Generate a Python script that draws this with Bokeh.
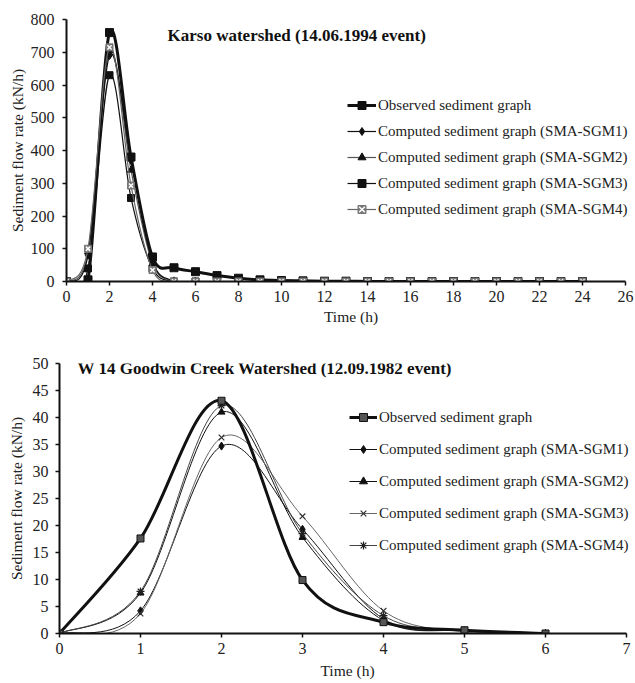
from bokeh.plotting import figure
from bokeh.models import Legend, LegendItem, Label, Range1d, FixedTicker
from bokeh.embed import file_html
from bokeh.resources import INLINE

FONT = "Liberation Serif"

# ---------------- Karso watershed data ----------------
karso_t = list(range(0, 25))
karso_obs = [0, 5, 760, 380, 75, 42, 30, 18, 10, 5, 3, 2, 1, 1, 0, 0, 0, 0, 0, 0, 0, 0, 0, 0, 0]
karso_sgm1 = [0, 80, 690, 370, 62, 2, 0, 0, 0, 0, 0, 0, 0, 0, 0, 0, 0, 0, 0, 0, 0, 0, 0, 0, 0]
karso_sgm2 = [0, 90, 705, 340, 55, 1, 0, 0, 0, 0, 0, 0, 0, 0, 0, 0, 0, 0, 0, 0, 0, 0, 0, 0, 0]
karso_sgm3 = [0, 40, 630, 255, 40, 0, 0, 0, 0, 0, 0, 0, 0, 0, 0, 0, 0, 0, 0, 0, 0, 0, 0, 0, 0]
karso_sgm4 = [0, 100, 715, 293, 35, 0, 0, 0, 0, 0, 0, 0, 0, 0, 0, 0, 0, 0, 0, 0, 0, 0, 0, 0, 0]
karso_xmax = 26
karso_xticks = list(range(0, 27, 2))
karso_yticks = list(range(0, 801, 100))

# ---------------- Goodwin Creek data ----------------
gw_t = [0, 1, 2, 3, 4, 5, 6]
gw_obs = [0, 17.6, 43.1, 9.9, 2.1, 0.6, 0]
gw_sgm1 = [0, 4.2, 34.7, 19.3, 2.7, 0.5, 0]
gw_sgm2 = [0, 7.5, 41.0, 17.8, 2.4, 0.5, 0]
gw_sgm3 = [0, 3.7, 36.3, 21.7, 4.2, 0.3, 0]
gw_sgm4 = [0, 7.8, 42.2, 18.5, 3.3, 0.5, 0]
gw_xmax = 7
gw_xticks = list(range(0, 8))
gw_yticks = list(range(0, 51, 5))

labels = ["Observed sediment graph",
          "Computed sediment graph (SMA-SGM1)",
          "Computed sediment graph (SMA-SGM2)",
          "Computed sediment graph (SMA-SGM3)",
          "Computed sediment graph (SMA-SGM4)"]


def smooth(xs, ys):
    """Cubic Bezier segments (Catmull-Rom style) through the data points."""
    n = len(xs)
    out = {k: [] for k in ["x0", "y0", "x1", "y1", "cx0", "cy0", "cx1", "cy1"]}
    for i in range(n - 1):
        a = i - 1 if i > 0 else i
        d = i + 2 if i + 2 < n else i + 1
        out["x0"].append(xs[i]); out["y0"].append(ys[i])
        out["x1"].append(xs[i + 1]); out["y1"].append(ys[i + 1])
        out["cx0"].append(xs[i] + (xs[i + 1] - xs[a]) / 6.0)
        out["cy0"].append(ys[i] + (ys[i + 1] - ys[a]) / 6.0)
        out["cx1"].append(xs[i + 1] - (xs[d] - xs[i]) / 6.0)
        out["cy1"].append(ys[i + 1] - (ys[d] - ys[i]) / 6.0)
    return out


def make_fig(width, height, bl, bt, bb, axis_px, xmax, ymax, xticks, yticks,
             ytick_standoff, ylab_standoff, xlab_standoff):
    # the frame runs to the right edge so the legend text is not clipped;
    # the x axis itself is bounded to [0, xmax]
    frame_w = width - bl
    x_end = xmax * frame_w / axis_px
    p = figure(width=width, height=height, output_backend="svg", toolbar_location=None,
               x_range=Range1d(0, x_end), y_range=Range1d(0, ymax),
               min_border_left=bl, min_border_right=0, min_border_top=bt, min_border_bottom=bb)
    p.outline_line_color = None
    p.grid.visible = False
    p.background_fill_color = "white"
    p.xaxis.ticker = FixedTicker(ticks=xticks)
    p.yaxis.ticker = FixedTicker(ticks=yticks)
    p.xaxis.bounds = (0, xmax)
    for ax in p.axis:
        ax.axis_line_width = 2
        ax.axis_line_color = "#111111"
        ax.major_tick_line_width = 1.5
        ax.major_tick_line_color = "#111111"
        ax.major_tick_in = 0
        ax.major_tick_out = 4
        ax.minor_tick_line_color = None
        ax.major_label_text_font = FONT
        ax.major_label_text_font_size = "16px"
        ax.major_label_text_color = "#222222"
        ax.axis_label_text_font = FONT
        ax.axis_label_text_font_size = "15.5px"
        ax.axis_label_text_font_style = "normal"
        ax.axis_label_text_color = "#222222"
    p.yaxis.major_label_standoff = ytick_standoff
    p.xaxis.major_label_standoff = 5
    p.yaxis.axis_label_standoff = ylab_standoff
    p.xaxis.axis_label_standoff = xlab_standoff
    p.yaxis.axis_label = "Sediment flow rate (kN/h)"
    p.xaxis.axis_label = "Time (h)"
    return p


def add_series(p, xs, ys, line_color, line_width, markers):
    curve = p.bezier(**smooth(xs, ys), line_color=line_color, line_width=line_width)
    rends = [curve]
    for m in markers:
        rends.append(p.scatter(xs, ys, **m))
    return rends


def make_legend(items, loc, spacing, glyph_width):
    return Legend(items=items, location=loc, orientation="vertical",
                  glyph_width=glyph_width, glyph_height=20, label_height=20, label_standoff=2,
                  spacing=spacing, padding=0, margin=0,
                  border_line_color=None, background_fill_alpha=0,
                  label_text_font=FONT, label_text_font_size="15px", label_text_color="#222222")


# ---------------- top chart ----------------
p1 = make_fig(635, 335, 66, 19, 54, 559, karso_xmax, 800, karso_xticks, karso_yticks, 8, 2, 3)

r_sgm3 = add_series(p1, karso_t, karso_sgm3, "#111111", 1.2,
                    [dict(marker="square", size=7, fill_color="#111111", line_color="#111111")])
r_sgm2 = add_series(p1, karso_t, karso_sgm2, "#555555", 1.2,
                    [dict(marker="triangle", size=7, fill_color="#111111", line_color="#111111")])
r_sgm1 = add_series(p1, karso_t, karso_sgm1, "#111111", 1.2,
                    [dict(marker="diamond", size=8, fill_color="#111111", line_color="#111111")])
r_obs = add_series(p1, karso_t, karso_obs, "#111111", 3,
                   [dict(marker="square", size=8, fill_color="#111111", line_color="#111111")])
r_sgm4 = add_series(p1, karso_t, karso_sgm4, "#666666", 1.2,
                    [dict(marker="square", size=7, fill_color="#777777", line_color="#777777"),
                     dict(marker="x", size=6, fill_color=None, line_color="white", line_width=1.5)])

leg1 = make_legend([LegendItem(label=labels[0], renderers=r_obs),
                    LegendItem(label=labels[1], renderers=r_sgm1),
                    LegendItem(label=labels[2], renderers=r_sgm2),
                    LegendItem(label=labels[3], renderers=r_sgm3),
                    LegendItem(label=labels[4], renderers=r_sgm4)],
                   (281, 62), 6, 29)
p1.add_layout(leg1, "center")
p1.add_layout(Label(x=4.7, y=751, text="Karso watershed (14.06.1994 event)",
                    text_font=FONT, text_font_size="17px", text_font_style="bold",
                    text_baseline="middle", text_color="#111111"))

# ---------------- bottom chart ----------------
p2 = make_fig(635, 348, 59, 28, 50, 567, gw_xmax, 50, gw_xticks, gw_yticks, 7, 5, 5)

g_sgm1 = add_series(p2, gw_t, gw_sgm1, "#111111", 1,
                    [dict(marker="diamond", size=8, fill_color="#111111", line_color="#111111")])
g_sgm2 = add_series(p2, gw_t, gw_sgm2, "#111111", 1,
                    [dict(marker="triangle", size=7, fill_color="#111111", line_color="#111111")])
g_sgm3 = add_series(p2, gw_t, gw_sgm3, "#666666", 1,
                    [dict(marker="x", size=8, fill_color=None, line_color="#333333", line_width=1.2)])
g_sgm4 = add_series(p2, gw_t, gw_sgm4, "#444444", 1,
                    [dict(marker="asterisk", size=8, fill_color=None, line_color="#222222", line_width=1.2)])
g_obs = add_series(p2, gw_t, gw_obs, "#111111", 3,
                   [dict(marker="square", size=7, fill_color="#555555", line_color="#111111", line_width=1)])

leg2 = make_legend([LegendItem(label=labels[0], renderers=g_obs),
                    LegendItem(label=labels[1], renderers=g_sgm1),
                    LegendItem(label=labels[2], renderers=g_sgm2),
                    LegendItem(label=labels[3], renderers=g_sgm3),
                    LegendItem(label=labels[4], renderers=g_sgm4)],
                   (290, 78), 12, 28)
p2.add_layout(leg2, "center")
p2.add_layout(Label(x=0.222, y=49.07, text="W 14 Goodwin Creek Watershed (12.09.1982 event)",
                    text_font=FONT, text_font_size="17px", text_font_style="bold",
                    text_baseline="middle", text_color="#111111"))

# two separate roots stacked on the page, so their frames are not aligned to each other
open("out.html", "w").write(file_html([p1, p2], INLINE))
